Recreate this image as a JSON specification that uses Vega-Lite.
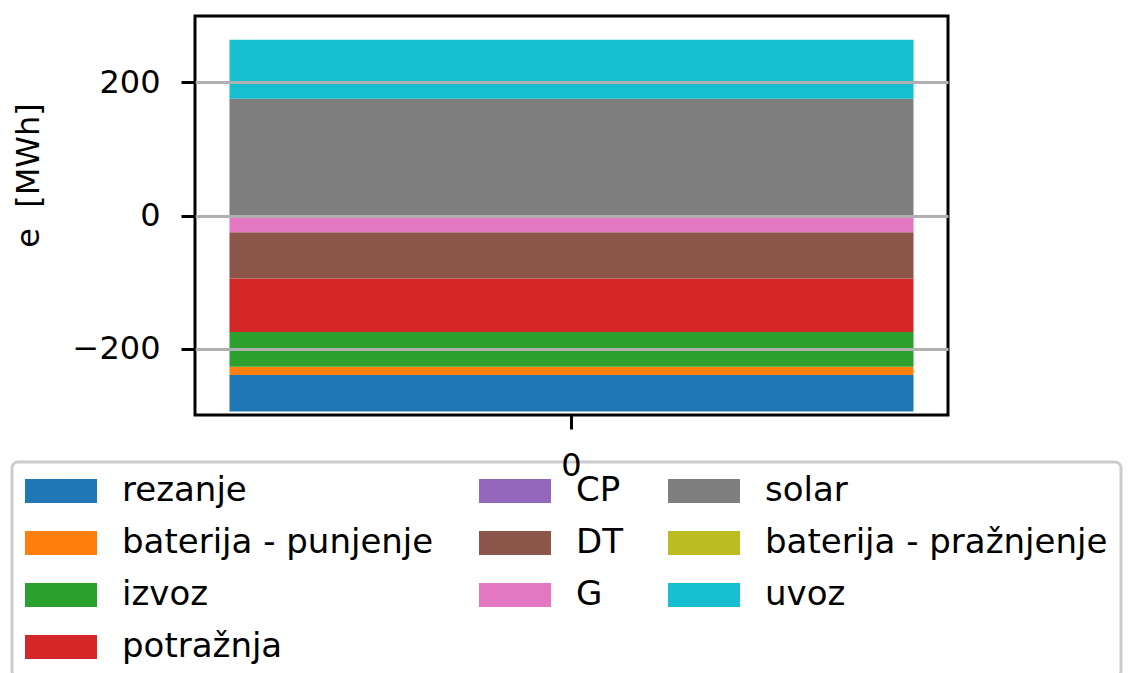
{
  "$schema": "https://vega.github.io/schema/vega-lite/v6.json",
  "autosize": "none",
  "width": 753,
  "height": 399,
  "padding": {"left": 195, "top": 16, "right": 187, "bottom": 258},
  "background": "white",
  "config": {
    "font": "DejaVu Sans",
    "view": {"stroke": "black", "strokeWidth": 3},
    "axis": {"domain": false, "tickColor": "black", "tickWidth": 3, "tickSize": 14, "labelColor": "black", "labelFontSize": 32, "labelFont": "DejaVu Sans", "titleFont": "DejaVu Sans", "titleFontWeight": "normal", "titleColor": "black"},
    "legend": {"strokeWidth": 3}
  },
  "data": {
    "values": [
      {"k": 0, "serija": "rezanje", "x": "0", "e": -55},
      {"k": 1, "serija": "baterija - punjenje", "x": "0", "e": -12.4},
      {"k": 2, "serija": "izvoz", "x": "0", "e": -52},
      {"k": 3, "serija": "potražnja", "x": "0", "e": -80},
      {"k": 4, "serija": "CP", "x": "0", "e": 0},
      {"k": 5, "serija": "DT", "x": "0", "e": -69.5},
      {"k": 6, "serija": "G", "x": "0", "e": -25},
      {"k": 7, "serija": "solar", "x": "0", "e": 175},
      {"k": 8, "serija": "baterija - pražnjenje", "x": "0", "e": 0},
      {"k": 9, "serija": "uvoz", "x": "0", "e": 88.4}
    ]
  },
  "encoding": {
    "x": {
      "field": "x", "type": "nominal",
      "scale": {"paddingInner": 0, "paddingOuter": 0.0504},
      "axis": {"title": null, "labelAngle": 0, "labelPadding": 21, "grid": false, "zindex": 1}
    },
    "y": {
      "field": "e", "type": "quantitative", "stack": "zero",
      "scale": {"domain": [-299, 299], "nice": false, "zero": false},
      "axis": {
        "title": "e\u00a0\u00a0[MWh]", "titleFontSize": 32, "titleX": -167, "titleY": 159, "titleAngle": 270, "titleBaseline": "middle", "titleAlign": "center",
        "values": [-200, 0, 200], "labelPadding": 21, "grid": true, "gridColor": "#b0b0b0", "gridWidth": 3, "zindex": 1
      }
    },
    "color": {
      "field": "serija", "type": "nominal",
      "scale": {
        "domain": ["rezanje", "CP", "solar", "baterija - punjenje", "DT", "baterija - pražnjenje", "izvoz", "G", "uvoz", "potražnja"],
        "range": ["#1f77b4", "#9467bd", "#7f7f7f", "#ff7f0e", "#8c564b", "#bcbd22", "#2ca02c", "#e377c2", "#17becf", "#d62728"]
      },
      "legend": {
        "title": null, "orient": "none", "legendX": -183, "legendY": 446, "direction": "horizontal", "columns": 3, "gridAlign": "each",
        "symbolType": "M-1,-0.3333H1V0.3333H-1Z", "symbolSize": 5184, "symbolStrokeWidth": 0, "symbolOpacity": 1,
        "labelFontSize": 34, "labelFont": "DejaVu Sans", "labelColor": "black", "labelOffset": 25, "labelLimit": 500,
        "clipHeight": 32, "rowPadding": 18, "columnPadding": 45, "padding": 13,
        "strokeColor": "#cccccc", "cornerRadius": 6, "fillColor": "rgba(255,255,255,0.8)"
      }
    }
  },
  "layer": [
    {
      "transform": [{"filter": "datum.e >= 0"}],
      "mark": {"type": "bar"},
      "encoding": {"order": {"field": "k", "type": "quantitative", "sort": "ascending"}}
    },
    {
      "transform": [{"filter": "datum.e < 0"}],
      "mark": {"type": "bar"},
      "encoding": {"order": {"field": "k", "type": "quantitative", "sort": "descending"}}
    }
  ]
}
